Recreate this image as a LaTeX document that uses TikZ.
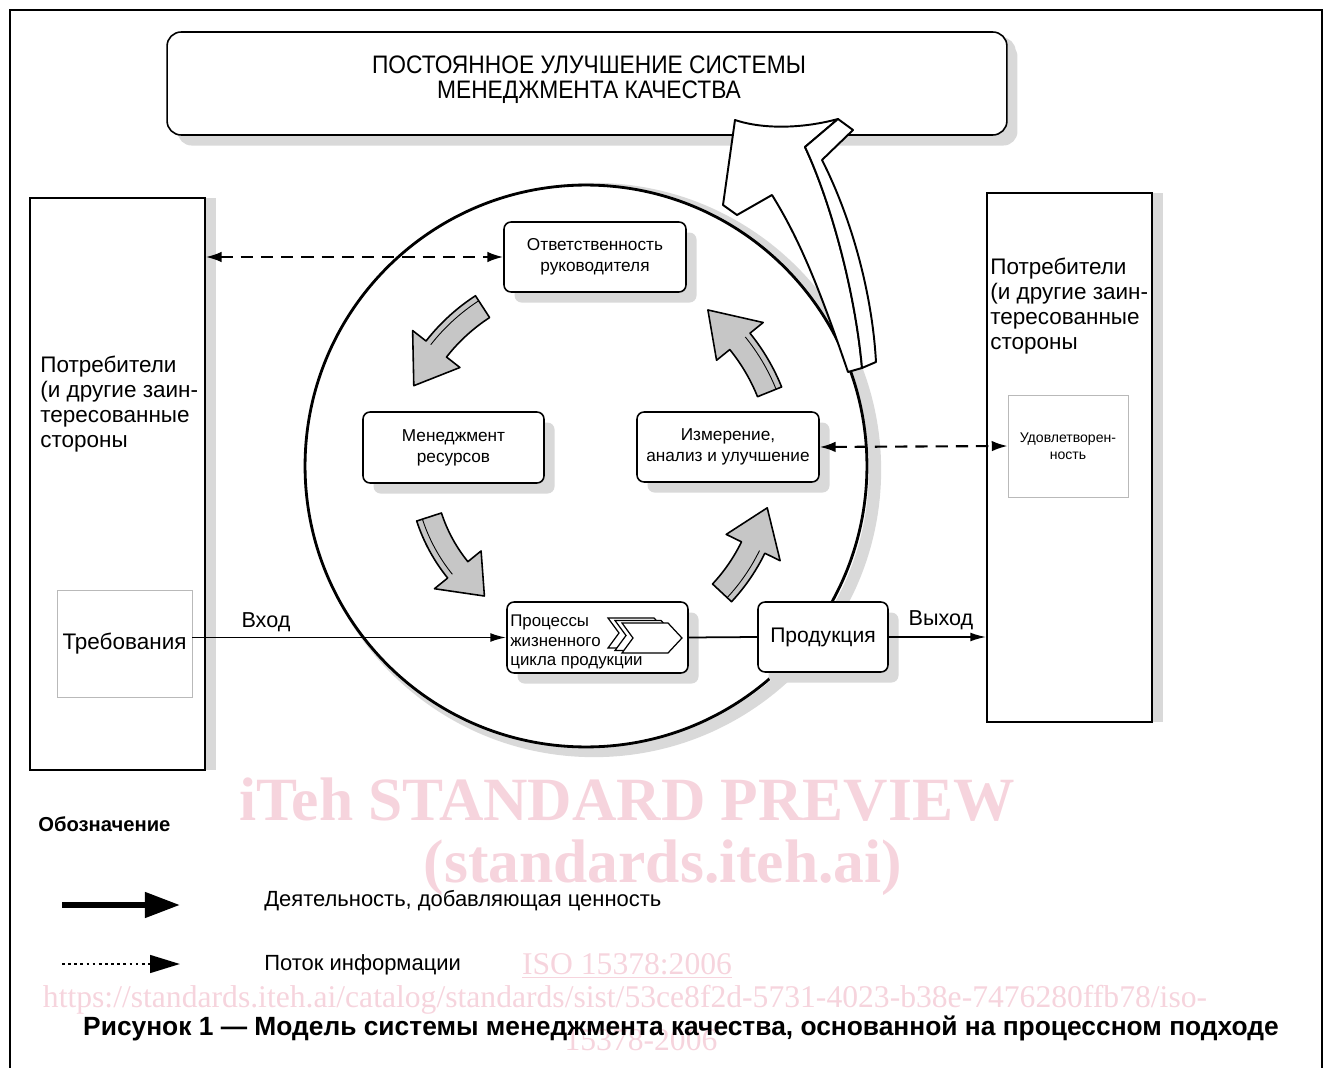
\documentclass[tikz,border=0pt]{standalone}
\usepackage{fontspec}
\setmainfont{Liberation Sans}
\newfontfamily\wmfont{Liberation Serif}
\newfontfamily\narrowfont[FakeStretch=0.9]{Liberation Sans}
\usetikzlibrary{positioning,arrows.meta,shadows,calc}
\definecolor{wmark}{RGB}{246,212,221}
\newcommand\fs[2]{\fontsize{#1}{#2}\selectfont}
% curved block arrow inside the ring: start angle, end angle, radius
\newcommand\ringarrow[3]{%
  \filldraw[ringstyle] ($(ring.center)+({#1}:{#3+13})$) arc[start angle={#1}, end angle={#2+13}, radius={#3+13}]
    -- ($(ring.center)+({#2+13}:{#3+30})$) -- ($(ring.center)+({#2}:{#3})$)
    -- ($(ring.center)+({#2+13}:{#3-30})$) -- ($(ring.center)+({#2+13}:{#3-13})$)
    arc[start angle={#2+13}, end angle={#1}, radius={#3-13}] -- cycle;
  \draw[line width=0.5pt] ($(ring.center)+({#1}:{#3+7})$) arc[start angle={#1}, end angle={#2+13}, radius={#3+7}];}

\begin{document}
\begin{tikzpicture}[x=0.02cm, y=-0.02cm]
    \tikzstyle{box}=[draw, rounded corners=4pt, fill=white, line width=0.9pt, inner sep=0pt, align=center,
                     drop shadow={shadow xshift=6pt, shadow yshift=-6pt, fill=gray!30, opacity=1}]
    \tikzstyle{side}=[draw, line width=0.9pt, fill=white, inner sep=0pt,
                      drop shadow={shadow xshift=6pt, shadow yshift=0pt, fill=gray!30, opacity=1}]
    \tikzstyle{soft}=[draw=gray!55, line width=0.5pt, fill=white, inner sep=0pt, align=center]
    \tikzstyle{ringstyle}=[fill=gray!45, draw, line width=0.9pt, line join=round]
    \tikzstyle{info}=[line width=1.2pt, dash pattern=on 7pt off 4.5pt,
                      {Latex[length=9pt,width=6pt]}-{Latex[length=9pt,width=6pt]}]
    \tikzstyle{flow}=[line width=1pt, -{Latex[length=9pt,width=5pt]}]
    \useasboundingbox (0,0) rectangle (1330,1068);

    % watermark
    \begin{scope}[wmark]
      \node[font=\wmfont\fs{35}{40}\bfseries] (wm1) at (627,800) {iTeh STANDARD PREVIEW};
      \node[font=\wmfont\fs{35}{40}\bfseries] (wm2) at (663,868) {(standards.iteh.ai)};
      \node[font=\wmfont\fs{18}{21}] (wm3) at (627,966) {\underline{ISO 15378:2006}};
      \node[font=\wmfont\fs{18}{21}] (wm4) at (625,1000) {https://standards.iteh.ai/catalog/standards/sist/53ce8f2d-5731-4023-b38e-7476280ffb78/iso-};
      \node[font=\wmfont\fs{18}{21}] (wm5) at (641,1040) {15378-2006};
    \end{scope}

    % frame
    \draw[line width=1.1pt] (10,1068) -- (10,10) -- (1322,10) -- (1322,1068);

    % banner
    \node[box, rounded corners=8pt, minimum width=16.8cm, minimum height=2.06cm,
          drop shadow={shadow xshift=5pt, shadow yshift=-3pt, fill=gray!30, opacity=1}] (banner) at (587,83.5) {};
    \node[align=center, inner sep=0pt, font=\narrowfont\fs{14.4}{14.2}] (title) at (589,80)
      {ПОСТОЯННОЕ УЛУЧШЕНИЕ СИСТЕМЫ\\МЕНЕДЖМЕНТА КАЧЕСТВА};

    % ring
    \draw[gray!30, line width=7pt] (594,470) circle[radius=281];
    \node[circle, draw, fill=white, line width=1.6pt, minimum size=11.24cm, inner sep=0pt] (ring) at (586,466) {};

    % big white arrow up to the banner
    \draw[fill=white, line width=1.1pt, line join=round]
      (735,120) .. controls (765,130) and (805,128) .. (838,119) -- (805,147)
      .. controls (830,200) and (855,290) .. (862,368) -- (848,372)
      .. controls (820,290) and (800,240) .. (772,195) -- (737,215) -- (723,205) -- cycle;
    \draw[fill=white, line width=1.1pt, line join=round]
      (838,119) -- (853,130) -- (822,160)
      .. controls (850,215) and (872,290) .. (876,362) -- (862,368)
      .. controls (855,290) and (830,200) .. (805,147) -- cycle;

    % customers
    \node[side, minimum width=3.5cm, minimum height=11.44cm] (custL) at (117.5,484) {};
    \node[anchor=west, align=left, inner sep=0pt, font=\fs{12.8}{14.2}] (custLtxt) at (40,404.5)
      {Потребители\\(и другие заин-\\тересованные\\стороны};
    \node[soft, minimum width=2.7cm, minimum height=2.14cm, font=\fs{12.8}{15}] (req) at (124.5,643.5) {Требования};

    \node[side, minimum width=3.3cm, minimum height=10.58cm] (custR) at (1069.5,457.5) {};
    \node[anchor=west, align=left, inner sep=0pt, font=\fs{12.8}{14.2}] (custRtxt) at (990,306.5)
      {Потребители\\(и другие заин-\\тересованные\\стороны};
    \node[soft, minimum width=2.4cm, minimum height=2.04cm, font=\fs{8}{9.5}] (satis) at (1068,446) {Удовлетворен-\\ность};

    % process boxes
    \node[box, minimum width=3.64cm, minimum height=1.4cm, font=\fs{9.8}{12}] (resp) at (595,257)
      {Ответственность\\руководителя};
    \node[box, minimum width=3.62cm, minimum height=1.42cm, font=\fs{9.8}{12}] (res) at (453.5,447.5)
      {Менеджмент\\ресурсов};
    \node[box, minimum width=3.64cm, minimum height=1.4cm, font=\fs{9.8}{12}] (meas) at (728,447)
      {Измерение,\\анализ и улучшение};
    \node[box, minimum width=3.62cm, minimum height=1.42cm] (proc) at (597.5,637.5) {};
    \foreach \s in {2,1,0}
      \draw[fill=white, line width=0.7pt, shift={(-7*\s,-2.5*\s)}]
        (622,623) -- (668,623) -- (682,638) -- (668,653) -- (622,653) -- (633,638) -- cycle;
    \node[anchor=west, align=left, inner sep=0pt, font=\fs{9.6}{11.3}] (proctxt) at (510,642)
      {Процессы\\жизненного\\цикла продукции};
    \node[box, minimum width=2.6cm, minimum height=1.4cm, font=\fs{12}{14}] (prod) at (823,637) {Продукция};

    % cycle arrows
    \ringarrow{-123}{-155}{190}
    \ringarrow{162}{128}{165}
    \ringarrow{43}{13}{186}
    \ringarrow{-22}{-52}{198}

    % connectors
    \draw[info] (custL.east |- resp.west) -- (resp.west);
    \draw[info] (meas.east) -- (satis.west);
    \draw[flow] (req.east |- proc.west) -- (proc.west);
    \draw[line width=1pt] (proc.east) -- (prod.west);
    \draw[flow] (prod.east) -- (prod.east -| custR.west);
    \node[font=\fs{12.3}{14}] (in) at (266,622) {Вход};
    \node[font=\fs{12.3}{14}] (out) at (941,620) {Выход};

    % legend
    \node[anchor=west, inner sep=0pt, font=\fs{11.5}{14}\bfseries] (legend) at (38,824) {Обозначение};
    \coordinate (la1) at (62,905);
    \coordinate (la2) at (180,905);
    \coordinate (lb1) at (62,964);
    \coordinate (lb2) at (180,964);
    \draw[line width=3.4pt, -{Triangle[length=20pt,width=14pt]}] (la1) -- (la2);
    \draw[line width=1.5pt, dotted, -{Triangle[length=17pt,width=10pt]}] (lb1) -- (lb2);
    \node[anchor=west, inner sep=0pt, font=\fs{12.5}{15}] (la) at (264,901) {Деятельность, добавляющая ценность};
    \node[anchor=west, inner sep=0pt, font=\fs{12.5}{15}] (lb) at (264,965) {Поток информации};

    % caption
    \node[font=\fs{15}{18}\bfseries] (caption) at (681,1028) {Рисунок 1 — Модель системы менеджмента качества, основанной на процессном подходе};
\end{tikzpicture}
\end{document}
